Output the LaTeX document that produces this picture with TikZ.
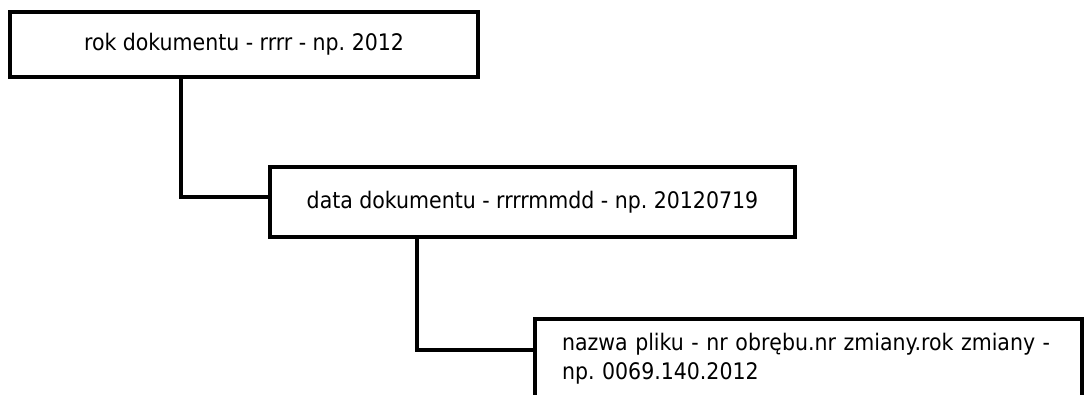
\documentclass[tikz,border=0pt]{standalone}
\usepackage{fontspec}
\setmainfont{DejaVu Sans Condensed}
\usepackage{tikz}
\usetikzlibrary{positioning}
\frenchspacing
\tikzset{
    x=1pt, y=-1pt, % one unit per pixel, y going down
    every node/.style={font=\fontsize{22.8}{29}\selectfont}, % text size of all labels
    fieldbox/.style={draw, line width=4pt, rectangle, inner sep=0pt}, % the boxes
    link/.style={line width=4pt}, % the connecting lines
}

\begin{document}
\begin{tikzpicture}
        \useasboundingbox (0,0) rectangle (1084,394);
        \node[fieldbox, minimum width=468pt, minimum height=65pt] (rok) at (244,44) {rok dokumentu - rrrr - np. 2012};
        \node[fieldbox, minimum width=525pt, minimum height=70pt] (data) at (532.5,202) {data dokumentu - rrrrmmdd - np. 20120719};
        \node[fieldbox, minimum width=547pt, minimum height=80pt, text width=493pt, align=left] (plik) at (808.5,359) {nazwa pliku - nr obrębu.nr zmiany.rok zmiany -\\np. 0069.140.2012};
        
        \draw[link] ([xshift=173pt]rok.south west) |- ([yshift=5pt]data.west);
        \draw[link] ([xshift=149pt]data.south west) |- ([yshift=9pt]plik.west);
    \end{tikzpicture}
\end{document}
